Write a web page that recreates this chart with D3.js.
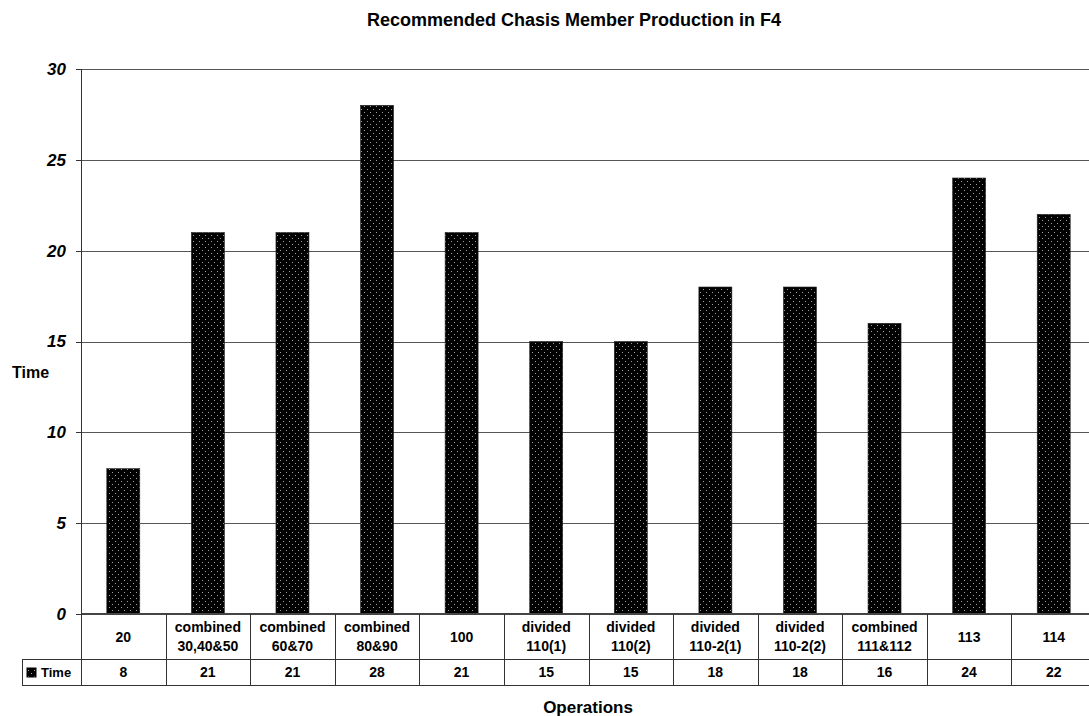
<!DOCTYPE html>
<html><head><meta charset="utf-8">
<script src="https://cdn.jsdelivr.net/npm/d3@7/dist/d3.min.js"></script>
<style>body{margin:0;background:#fff;} svg{display:block;font-family:"Liberation Sans",Arial,sans-serif;}</style>
</head><body>
<svg id="chart" width="1089" height="716"></svg>
<script>
const categories = [["20"],["combined","30,40&50"],["combined","60&70"],["combined","80&90"],["100"],["divided","110(1)"],["divided","110(2)"],["divided","110-2(1)"],["divided","110-2(2)"],["combined","111&112"],["113"],["114"]];
const timeValues = [8,21,21,28,21,15,15,18,18,16,24,22];
const yTicks = [0,5,10,15,20,25,30];
const seriesName = "Time";
const title = "Recommended Chasis Member Production in F4";
const xTitle = "Operations";
const yTitle = "Time";

(function(){
const svg = d3.select("#chart");
const pLeft = 81, pRight = 1096, pTop = 69, pBottom = 614;
const row1 = 659, row2 = 685, legendLeft = 22;

const defs = svg.append("defs");
const pat = defs.append("pattern").attr("id","dots").attr("patternUnits","userSpaceOnUse")
  .attr("width",6).attr("height",6);
pat.append("rect").attr("width",6).attr("height",6).attr("fill","#000");
pat.append("rect").attr("x",1).attr("y",1).attr("width",1).attr("height",1).attr("fill","#a0a0a0");
pat.append("rect").attr("x",4).attr("y",4).attr("width",1).attr("height",1).attr("fill","#a0a0a0");

const idx = d3.range(categories.length);
const x = d3.scaleBand().domain(idx).range([pLeft,pRight]).paddingInner(0.61).paddingOuter(0.305);
const xc = d3.scaleBand().domain(idx).range([pLeft,pRight]);
const y = d3.scaleLinear().domain([0,30]).range([pBottom,pTop]);

// gridlines
svg.append("g").selectAll("line").data(yTicks.filter(d=>d>0)).join("line")
  .attr("x1",pLeft).attr("x2",pRight).attr("y1",d=>Math.round(y(d))+0.5).attr("y2",d=>Math.round(y(d))+0.5)
  .attr("stroke","#555").attr("stroke-width",1);

// y axis
const yAxis = d3.axisLeft(y).tickValues(yTicks).tickSize(5).tickPadding(10);
const ga = svg.append("g").attr("transform",`translate(${pLeft},0)`).call(yAxis);
ga.select(".domain").remove();
ga.selectAll(".tick line").attr("stroke","#333").attr("shape-rendering","crispEdges");
ga.selectAll(".tick text").attr("font-size",17).attr("font-weight","bold").attr("font-style","italic")
  .attr("fill","#000").attr("font-family","'Liberation Sans',Arial,sans-serif");

// bars
svg.append("g").selectAll("rect").data(timeValues).join("rect")
  .attr("x",(d,i)=>x(i)).attr("width",x.bandwidth())
  .attr("y",d=>y(d)).attr("height",d=>y(0)-y(d))
  .attr("fill","url(#dots)").attr("stroke","#222").attr("stroke-width",0.6);

// table lines
const tl = svg.append("g").attr("stroke","#333").attr("stroke-width",1).attr("shape-rendering","crispEdges");
tl.append("line").attr("x1",pLeft).attr("x2",pRight).attr("y1",pBottom).attr("y2",pBottom).attr("stroke","#444").attr("stroke-width",2);
tl.append("line").attr("x1",pLeft).attr("x2",pLeft).attr("y1",pTop).attr("y2",row2);
tl.selectAll("line.v").data(idx.slice(1)).join("line").attr("class","v")
  .attr("x1",i=>Math.round(xc(i))).attr("x2",i=>Math.round(xc(i))).attr("y1",pBottom).attr("y2",row2);
tl.append("line").attr("x1",legendLeft).attr("x2",pRight).attr("y1",row1).attr("y2",row1);
tl.append("line").attr("x1",legendLeft).attr("x2",pRight).attr("y1",row2).attr("y2",row2);
tl.append("line").attr("x1",legendLeft).attr("x2",legendLeft).attr("y1",row1).attr("y2",row2);

// category labels
const cg = svg.append("g").attr("font-size",14).attr("font-weight","bold").attr("text-anchor","middle");
categories.forEach((lines,i)=>{
  const cx = xc(i)+xc.bandwidth()/2;
  const n = lines.length;
  lines.forEach((t,j)=>{
    cg.append("text").attr("x",cx).attr("y",637+(j-(n-1)/2)*19).attr("dy","0.35em").text(t);
  });
});
// values row
svg.append("g").attr("font-size",14).attr("font-weight","bold").attr("text-anchor","middle")
  .selectAll("text").data(timeValues).join("text")
  .attr("x",(d,i)=>xc(i)+xc.bandwidth()/2).attr("y",(row1+row2)/2).attr("dy","0.35em").text(d=>d);

// legend
svg.append("rect").attr("x",27).attr("y",668).attr("width",9).attr("height",9).attr("fill","url(#dots)").attr("stroke","#000");
svg.append("text").attr("x",41).attr("y",(row1+row2)/2).attr("dy","0.35em").attr("font-size",13).attr("font-weight","bold").text(seriesName);

// titles
svg.append("text").attr("x",574).attr("y",20).attr("dy","0.35em").attr("text-anchor","middle")
  .attr("font-size",18).attr("font-weight","bold").text(title);
svg.append("text").attr("x",588).attr("y",707).attr("dy","0.35em").attr("text-anchor","middle")
  .attr("font-size",17).attr("font-weight","bold").text(xTitle);
svg.append("text").attr("x",12).attr("y",372).attr("dy","0.35em")
  .attr("font-size",16).attr("font-weight","bold").text(yTitle);
})();
</script>
</body></html>
